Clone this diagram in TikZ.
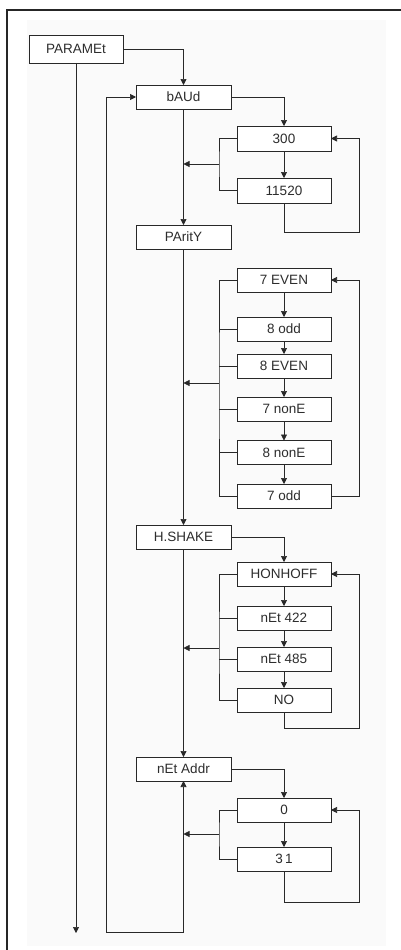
\documentclass[tikz,border=0pt]{standalone}
\usepackage{fontspec}
\setmainfont{Liberation Sans}
\usetikzlibrary{arrows.meta,calc}
\definecolor{linegray}{RGB}{40, 40, 40}
\definecolor{textgray}{RGB}{45, 45, 45}
\definecolor{panelgray}{RGB}{250, 250, 250}

\begin{document}
\begin{tikzpicture}[x=1pt, y=1pt,
    menubox/.style={draw=linegray, line width=0.7pt, fill=white, minimum width=95pt, minimum height=24pt, inner sep=0pt, outer sep=0pt, font=\fontsize{13.5}{15}\selectfont\color{textgray}},
    wire/.style={draw=linegray, line width=0.7pt},
    arr/.style={wire, -{Triangle[length=6pt, width=6pt]}}]
        \useasboundingbox (0,0) rectangle (401,-950);
        % Panel and frame
        \fill[panelgray] (27,-20) rectangle (386,-946);
        \draw[line width=1.6pt, color=black!85] (7,-950) -- (7,-10) -- (401,-10);

        % Top level menu
        \node[menubox, minimum width=94pt, minimum height=28pt] (parametbox) at (76,-49) {PARAMEt};
        \node[menubox] (baud) at (183.5,-97) {bAUd};
        \node[menubox] (parity) at (183.5,-237) {PAritY};
        \node[menubox] (hshake) at (183.5,-537) {H.SHAKE};
        \node[menubox] (netaddr) at (183.5,-769) {nEt Addr};

        % Baud values
        \node[menubox, minimum width=94pt, minimum height=25pt] (b300) at (284,-138.5) {300};
        \node[menubox, minimum width=94pt, minimum height=25pt] (b11520) at (284,-190.5) {11520};

        % Parity values
        \node[menubox, minimum width=94pt] (p7even) at (284,-280) {7 EVEN};
        \node[menubox, minimum width=94pt] (p8odd) at (284,-329) {8 odd};
        \node[menubox, minimum width=94pt] (p8even) at (284,-366) {8 EVEN};
        \node[menubox, minimum width=94pt] (p7none) at (284,-409) {7 nonE};
        \node[menubox, minimum width=94pt] (p8none) at (284,-452.5) {8 nonE};
        \node[menubox, minimum width=94pt] (p7odd) at (284,-496) {7 odd};

        % Handshake values
        \node[menubox, minimum width=94pt] (honhoff) at (284,-574) {HONHOFF};
        \node[menubox, minimum width=94pt] (net422) at (284,-618) {nEt 422};
        \node[menubox, minimum width=94pt] (net485) at (284,-659) {nEt 485};
        \node[menubox, minimum width=94pt] (hsno) at (284,-700) {NO};

        % Address values
        \node[menubox, minimum width=94pt] (a0) at (284,-810) {0};
        \node[menubox, minimum width=94pt] (a31) at (284,-859) {3\,1};

        % Helper coordinates
        \coordinate (rloop) at (359,0);
        \coordinate (retl) at (106,0);
        \coordinate (retc) at (183.5,-932);
        \coordinate (paramend) at (76,-933);
        \coordinate (bbr) at (219,-164);
        \coordinate (pbr) at (219,-383);
        \coordinate (hbr) at (219,-648);
        \coordinate (abr) at (219,-834);

        % Main chain
        \draw[arr] (parametbox.east) -| (baud.north);
        \draw[arr] (parametbox.south) -- (paramend);
        \draw[arr] (baud.south) -- (parity.north);
        \draw[arr] (parity.south) -- (hshake.north);
        \draw[arr] (hshake.south) -- (netaddr.north);
        \draw[arr] (retc) -- (netaddr.south);
        \draw[arr] (retc) -| (retl |- baud.west) -- (baud.west);

        % Baud
        \draw[arr] (baud.east) -| (b300.north);
        \draw[arr] (b300) -- (b11520);
        \draw[wire] (b300.west) -| (bbr) |- (b11520.west);
        \draw[arr] (bbr) -- (bbr -| baud.south);
        \draw[arr] (b11520.south) -- ++(0,-29) -| (rloop |- b300.east) -- (b300.east);

        % Parity
        \draw[arr] (p7even) -- (p8odd);
        \draw[arr] (p8odd) -- (p8even);
        \draw[arr] (p8even) -- (p7none);
        \draw[arr] (p7none) -- (p8none);
        \draw[arr] (p8none) -- (p7odd);
        \draw[wire] (p7even.west) -| (pbr) |- (p7odd.west);
        \foreach \v in {p8odd,p8even,p7none,p8none}
            \draw[wire] (\v.west) -- (\v.west -| pbr);
        \draw[arr] (pbr) -- (pbr -| parity.south);
        \draw[arr] (p7odd.east) -| (rloop |- p7even.east) -- (p7even.east);

        % Handshake
        \draw[arr] (hshake.east) -| (honhoff.north);
        \draw[arr] (honhoff) -- (net422);
        \draw[arr] (net422) -- (net485);
        \draw[arr] (net485) -- (hsno);
        \draw[wire] (honhoff.west) -| (hbr) |- (hsno.west);
        \foreach \v in {net422,net485}
            \draw[wire] (\v.west) -- (\v.west -| hbr);
        \draw[arr] (hbr) -- (hbr -| hshake.south);
        \draw[arr] (hsno.south) -- ++(0,-16) -| (rloop |- honhoff.east) -- (honhoff.east);

        % Address
        \draw[arr] (netaddr.east) -| (a0.north);
        \draw[arr] (a0) -- (a31);
        \draw[wire] (a0.west) -| (abr) |- (a31.west);
        \draw[arr] (abr) -- (abr -| netaddr.south);
        \draw[arr] (a31.south) -- ++(0,-31) -| (rloop |- a0.east) -- (a0.east);
    \end{tikzpicture}
\end{document}
